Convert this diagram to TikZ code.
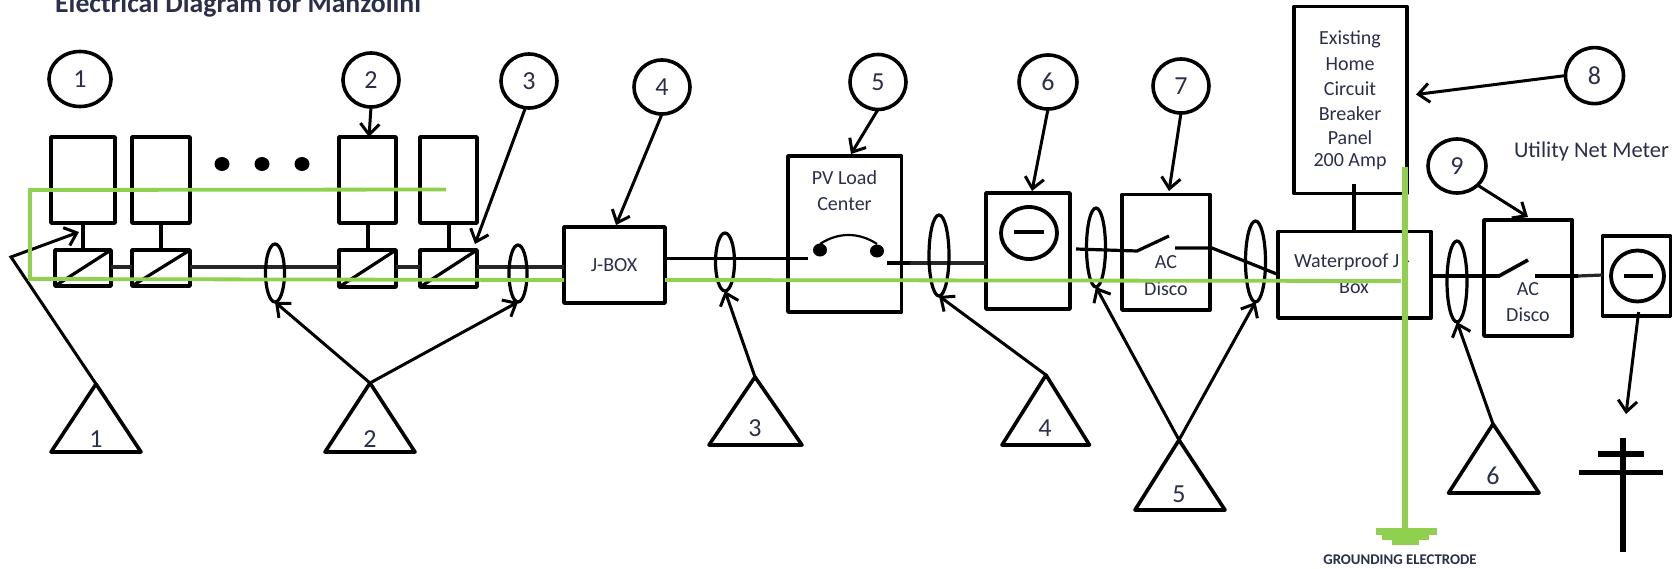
\documentclass[tikz,border=0pt]{standalone}
\usepackage{fontspec}
\setmainfont{Carlito}
\usetikzlibrary{arrows.meta,fit,shapes.geometric}
\definecolor{gnd}{HTML}{8FD04F}
\definecolor{ink}{HTML}{2B2F4A}
\tikzset{
  x=1pt,y=-1pt,
  box/.style={draw=black,line width=3.8pt,inner sep=0pt,outer sep=0pt,line join=round},
  bub/.style={ellipse,draw=black,line width=3.6pt,inner sep=0pt,outer sep=0pt,text=ink,font=\fontsize{26}{26}\selectfont},
  lp/.style={ellipse,draw=black,line width=3.2pt,inner sep=0pt,outer sep=0pt},
  arr/.style={draw=black,line width=3pt,-{Straight Barb[length=11pt,width=19pt,line width=3pt]}},
  wire/.style={draw=black!85,line width=3.2pt},
  tri/.style={draw=black,line width=3.6pt,line join=round},
  num/.style={text=ink,inner sep=0pt,font=\fontsize{26}{26}\selectfont},
  txt/.style={text=ink,inner sep=0pt,font=\fontsize{20}{20}\selectfont},
  green/.style={draw=gnd,line width=3.8pt},
}
\begin{document}
\begin{tikzpicture}
\useasboundingbox (0,0) rectangle (1676,568);
\fill[white] (0,0) rectangle (1676,568);
% title
\node[anchor=base west,inner sep=0pt,text=ink,font=\bfseries\fontsize{27.7}{27.7}\selectfont] (title) at (55,12) {Electrical Diagram for Manzolini};
% PV modules
\node[box,fit={(51,137)(115,223)}] (p1) {};
\node[box,fit={(132,137)(190,223)}] (p2) {};
\node[box,fit={(339,137)(396,223)}] (p3) {};
\node[box,fit={(420,137)(477,223)}] (p4) {};
% inverters
\node[box,fit={(55,250)(111,286)}] (i1) {};
\node[box,fit={(132,250)(190,286)}] (i2) {};
\node[box,fit={(339,250)(396,287)}] (i3) {};
\node[box,fit={(420,250)(477,287)}] (i4) {};
\foreach \n in {i1,i2,i3,i4}{\draw[black,line width=3.2pt] (\n.south west) -- (\n.north east);}
\draw[black,line width=3.2pt] (83,223) -- (83,250);
\draw[black,line width=4.4pt] (p2.south) -- (i2.north);
\draw[black,line width=4.4pt] (368,223) -- (368,250);
\draw[black,line width=4.4pt] (449,223) -- (449,250);
% dots
\foreach \x/\n in {222/a,262/b,302/c}{\fill[black] (\x,164) ellipse [x radius=7.5,y radius=7];}
% bubbles
\node[bub,minimum width=62pt,minimum height=55pt] (c1) at (80,79) {1};
\node[bub,minimum width=56pt,minimum height=54pt] (c2) at (371,80) {2};
\node[bub,minimum width=56pt,minimum height=54pt] (c3) at (529,81) {3};
\node[bub,minimum width=56pt,minimum height=54pt] (c4) at (662,87) {4};
\node[bub,minimum width=56pt,minimum height=55pt] (c5) at (878,82) {5};
\node[bub,minimum width=58pt,minimum height=54pt] (c6) at (1048,82) {6};
\node[bub,minimum width=56pt,minimum height=54pt] (c7) at (1181,86) {7};
\node[bub,minimum width=58pt,minimum height=56pt] (c8) at (1594.5,75.6) {8};
\node[bub,minimum width=58pt,minimum height=54pt] (c9) at (1457,166) {9};
% boxes
\node[box,fit={(564,227)(665,303)}] (jbox) {};
\node[txt] (jt) at (614,265) {J-BOX};
\node[box,fit={(788,156)(901.5,312)}] (pv) {};
\node[txt] (pv1) at (844.5,178) {PV Load};
\node[txt] (pv2) at (844.5,204) {Center};
\node[box,fit={(986,193)(1070,309)}] (m1) {};
\node[lp,line width=3.8pt,minimum width=56pt,minimum height=52pt] (m1c) at (1029,233) {};
\draw[black,line width=3.2pt] (1014,232) coordinate (m1a) -- (1043.5,232) coordinate (m1b);
\node[box,fit={(1122,194.5)(1210,310)}] (ac1) {};
\node[txt] (ac1a) at (1166,262.5) {AC};
\node[txt] (ac1b) at (1166,289) {Disco};
\node[box,fit={(1294,6.5)(1407,193.5)}] (bp) {};
\foreach \y/\s/\n in {39/Existing/a,64/Home/b,89/Circuit/c,113.5/Breaker/d,137.5/Panel/e,162/200 Amp/f}{\node[txt] (bp\n) at (1350,\y) {\s};}
\node[box,fit={(1278,231.5)(1431,318)}] (wp) {};
\node[txt] (wp1) at (1352,262.5) {Waterproof J -};
\node[txt] (wp2) at (1354,287) {Box};
\draw[black,line width=3.4pt] (1354,183.6) coordinate (bps) -- (bps |- wp.north);
\node[box,fit={(1484,220)(1572,336)}] (ac2) {};
\node[txt] (ac2a) at (1528,289) {AC};
\node[txt] (ac2b) at (1528,314.5) {Disco};
\node[box,fit={(1602.5,236)(1670.5,315.6)}] (m2) {};
\node[lp,line width=3.8pt,minimum width=53pt,minimum height=51pt] (m2c) at (1637.5,276) {};
\draw[black,line width=3.2pt] (1624,276) coordinate (m2a) -- (1653,276) coordinate (m2b);
\node[txt,font=\fontsize{22.5}{22.5}\selectfont] (unm) at (1591.5,151) {Utility Net Meter};
% wires
\draw[wire] (i1.east |- 0,267) -- (i2.west |- 0,267);
\draw[wire] (i2.east |- 0,267) -- (i3.west |- 0,267);
\draw[wire] (i3.east |- 0,267) -- (i4.west |- 0,267);
\draw[wire] (i4.east |- 0,267) -- (jbox.west |- 0,267);
\draw[black,line width=3pt] (jbox.east |- 0,258) -- (808,258) coordinate (sw1);
\draw[wire] (887,263) coordinate (sw2) -- (m1.west |- 0,263);
\draw[black,line width=3.2pt] (sw2) -- (910,263);
\draw[black,line width=2.2pt] (820,244) .. controls (838,232) and (859,232) .. (877,244);
\fill[black] (820,250) ellipse [x radius=7,y radius=6.5];
\fill[black] (877,251) ellipse [x radius=7,y radius=6.5];
\draw[black,line width=3.2pt] (1076,249) coordinate (w5) -- (1137,251) coordinate (w6) -- (1169,236) coordinate (w7);
\draw[black,line width=3.2pt] (1175,248) coordinate (w8) -- (1212,248) coordinate (w9) -- (wp.west |- 0,274.5);
\draw[black,line width=3.6pt] (wp.east |- 0,276) -- (1499,276) coordinate (w10) -- (1528,260) coordinate (w11);
\draw[black,line width=3.6pt] (1534.5,276) coordinate (w12) -- (1578,276) coordinate (w13);
\draw[wire] (w13) -- (m2.west |- 0,275);
% loops
\node[lp,minimum width=19pt,minimum height=58pt] (e1) at (275,273) {};
\node[lp,minimum width=18pt,minimum height=57pt] (e2) at (518,273.5) {};
\node[lp,minimum width=19pt,minimum height=58pt] (e3) at (725,262) {};
\node[lp,minimum width=20pt,minimum height=81pt] (e4) at (939,255.5) {};
\node[lp,minimum width=19pt,minimum height=79pt] (e5) at (1096,247.5) {};
\node[lp,minimum width=20pt,minimum height=81pt] (e6) at (1255.5,261.5) {};
\node[lp,minimum width=20pt,minimum height=81pt] (e7) at (1457,281.5) {};
% triangles
\draw[tri] (96,384) coordinate (t1) -- (51,452) -- (141,452) -- cycle;
\node[num] (n1) at (96,439) {1};
\draw[tri] (370,383) coordinate (t2) -- (325,452) -- (415,452) -- cycle;
\node[num] (n2) at (370,439) {2};
\draw[tri] (755,377) coordinate (t3) -- (709,445) -- (802,445) -- cycle;
\node[num] (n3) at (755,428) {3};
\draw[tri] (1046,375) coordinate (t4) -- (1002,445) -- (1089.5,445) -- cycle;
\node[num] (n4) at (1045,428) {4};
\draw[tri] (1179,440) coordinate (t5) -- (1135,510) -- (1225,510) -- cycle;
\node[num] (n5) at (1179,494) {5};
\draw[tri] (1493,424) coordinate (t6) -- (1448.5,493) -- (1539,493) -- cycle;
\node[num] (n6) at (1493,476) {6};
% pole
\draw[line width=6.5pt] (1623,438) coordinate (pt) -- (1623,552) coordinate (pb);
\draw[line width=6pt] (1598,454) coordinate (b1) -- (1644,454) coordinate (b2);
\draw[line width=5pt] (1579,472) coordinate (b3) -- (1662.5,472) coordinate (b4);
% arrows
\coordinate (k1) at (11,257);
\draw[arr] (t1) -- (k1) -- (79,232);
\draw[arr] (t2) -- (e1.south);
\draw[arr] (t2) -- (e2.south);
\draw[arr] (t3) -- (e3.south);
\draw[arr] (t4) -- (e4.south);
\draw[arr] (t5) -- (e5.south);
\draw[arr] (t5) -- (e6.south);
\draw[arr] (t6) -- (e7.south);
\draw[arr] (c2.south) -- (p3.north -| 369,0);
\draw[arr] (c3.south) ++(-4,1) -- (475,244);
\draw[arr] (c4.south) -- (616,225);
\draw[arr] (c5.south) -- (851,154);
\draw[arr] (c6.south) -- (1032,191);
\draw[arr] (c7.south) -- (1169,191);
\draw[arr] (c8.west) -- (1416,94.5);
\draw[arr] (c9.south east) -- (1528,217);
\draw[arr] (1638.6,312) coordinate (m2s) -- (1626,414);
% green grounding
\draw[green,line join=miter] (446,189.5) coordinate (g0) -- (30,190) coordinate (g1) -- (30,279) coordinate (g2) -- (jbox.west |- 0,280);
\draw[green] (jbox.east |- 0,280) -- (1401,281) coordinate (g3);
\draw[green,line width=6pt] (1405,166.5) coordinate (g4) -- (1405,529) coordinate (g5);
\fill[gnd] (1376,528) rectangle (1437,534.5);
\fill[gnd] (1382,534.5) rectangle (1429,540);
\fill[gnd] (1392,540) rectangle (1419,545);
\node[inner sep=0pt,text=ink,font=\bfseries\fontsize{14.8}{14.8}\selectfont] (ge) at (1400,560) {GROUNDING ELECTRODE};
\end{tikzpicture}
\end{document}
